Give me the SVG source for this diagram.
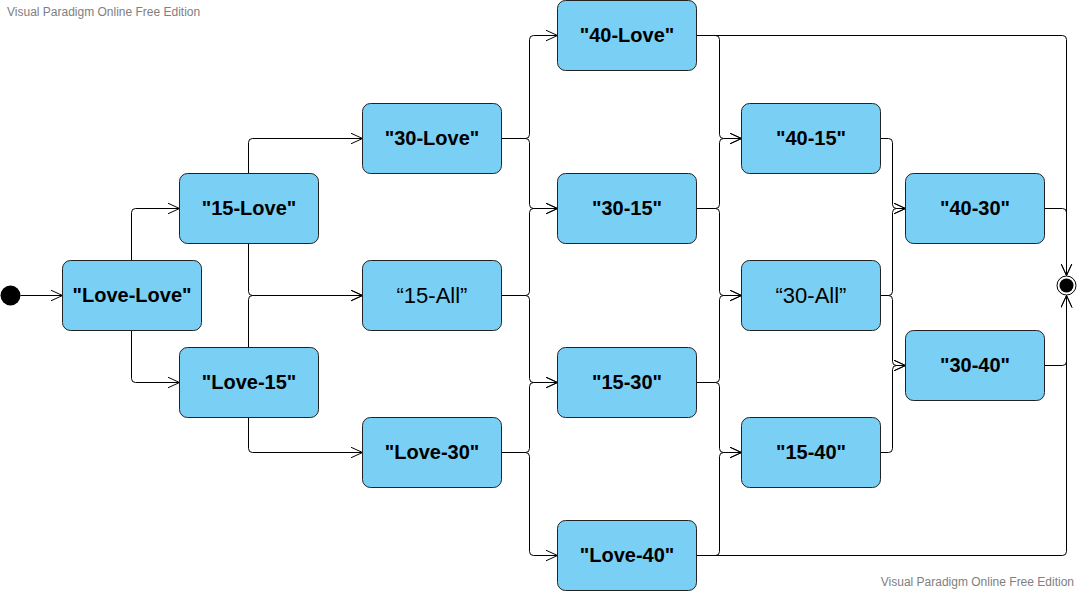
<svg xmlns="http://www.w3.org/2000/svg" width="1080" height="591" viewBox="0 0 1080 591">
<style>
.n rect{fill:#7ACFF5;stroke:#222;stroke-width:1}
.n text{font-family:"Liberation Sans",Arial,sans-serif;font-size:20px;font-weight:bold;fill:#000;text-anchor:middle}
.n text.r{font-weight:normal;font-size:22px}
.c path{fill:none;stroke:#000;stroke-width:1;marker-end:url(#arr)}
.wm{font-family:"Liberation Sans",Arial,sans-serif;font-size:12px;fill:#808080}
</style>
<defs>
<marker id="arr" markerUnits="userSpaceOnUse" viewBox="0 0 13 12" refX="12" refY="6" markerWidth="13" markerHeight="12" orient="auto">
<path d="M0,0.5 L12,6 L0,11.5" fill="none" stroke="#000" stroke-width="1"/>
</marker>
</defs>
<rect width="1080" height="591" fill="#fff"/>
<text class="wm" x="7" y="16">Visual Paradigm Online Free Edition</text>
<text class="wm" x="1074" y="586" text-anchor="end">Visual Paradigm Online Free Edition</text>
<g id="connectors" class="c">
<path d="M20.5,295.5 H62.5"/>
<path d="M131.5,260.5 V212.5 Q131.5,208.5 135.5,208.5 H179.5"/>
<path d="M131.5,330.5 V378.5 Q131.5,382.5 135.5,382.5 H179.5"/>
<path d="M248.5,173.5 V142.5 Q248.5,138.5 252.5,138.5 H362.5"/>
<path d="M248.5,243.5 V291.5 Q248.5,295.5 252.5,295.5 H362.5"/>
<path d="M248.5,347.5 V299.5 Q248.5,295.5 252.5,295.5 H362.5"/>
<path d="M248.5,417.5 V448.5 Q248.5,452.5 252.5,452.5 H362.5"/>
<path d="M501.5,138.5 H525.5 Q529.5,138.5 529.5,134.5 V39.5 Q529.5,35.5 533.5,35.5 H557.5"/>
<path d="M501.5,138.5 H525.5 Q529.5,138.5 529.5,142.5 V204.5 Q529.5,208.5 533.5,208.5 H557.5"/>
<path d="M501.5,295.5 H525.5 Q529.5,295.5 529.5,291.5 V212.5 Q529.5,208.5 533.5,208.5 H557.5"/>
<path d="M501.5,295.5 H525.5 Q529.5,295.5 529.5,299.5 V378.5 Q529.5,382.5 533.5,382.5 H557.5"/>
<path d="M501.5,452.5 H525.5 Q529.5,452.5 529.5,448.5 V386.5 Q529.5,382.5 533.5,382.5 H557.5"/>
<path d="M501.5,452.5 H525.5 Q529.5,452.5 529.5,456.5 V551.5 Q529.5,555.5 533.5,555.5 H557.5"/>
<path d="M696.5,35.5 H715.5 Q719.5,35.5 719.5,39.5 V134.5 Q719.5,138.5 723.5,138.5 H741.5"/>
<path d="M696.5,208.5 H715.5 Q719.5,208.5 719.5,204.5 V142.5 Q719.5,138.5 723.5,138.5 H741.5"/>
<path d="M696.5,208.5 H715.5 Q719.5,208.5 719.5,212.5 V291.5 Q719.5,295.5 723.5,295.5 H741.5"/>
<path d="M696.5,382.5 H715.5 Q719.5,382.5 719.5,378.5 V299.5 Q719.5,295.5 723.5,295.5 H741.5"/>
<path d="M696.5,382.5 H715.5 Q719.5,382.5 719.5,386.5 V448.5 Q719.5,452.5 723.5,452.5 H741.5"/>
<path d="M696.5,555.5 H715.5 Q719.5,555.5 719.5,551.5 V456.5 Q719.5,452.5 723.5,452.5 H741.5"/>
<path d="M880.5,138.5 H888.5 Q892.5,138.5 892.5,142.5 V204.5 Q892.5,208.5 896.5,208.5 H905.5"/>
<path d="M880.5,295.5 H888.5 Q892.5,295.5 892.5,291.5 V212.5 Q892.5,208.5 896.5,208.5 H905.5"/>
<path d="M880.5,295.5 H888.5 Q892.5,295.5 892.5,299.5 V361.5 Q892.5,365.5 896.5,365.5 H905.5"/>
<path d="M880.5,452.5 H888.5 Q892.5,452.5 892.5,448.5 V369.5 Q892.5,365.5 896.5,365.5 H905.5"/>
<path d="M696.5,35.5 H1062.5 Q1066.5,35.5 1066.5,39.5 V275.5"/>
<path d="M1044.5,208.5 H1062.5 Q1066.5,208.5 1066.5,212.5 V275.5"/>
<path d="M1044.5,365.5 H1062.5 Q1066.5,365.5 1066.5,361.5 V295.5"/>
<path d="M696.5,555.5 H1062.5 Q1066.5,555.5 1066.5,551.5 V295.5"/>
</g>
<g id="initial"><circle cx="10.5" cy="295.5" r="10" fill="#000"/></g>
<g id="final"><circle cx="1066.5" cy="285.5" r="9.5" fill="#fff" stroke="#000" stroke-width="1"/><circle cx="1066.5" cy="285.5" r="7" fill="#000"/></g>
<g id="LoveLove" class="n"><rect x="62.5" y="260.5" width="139" height="70" rx="8"/><text x="132" y="302">"Love-Love"</text></g>
<g id="n15Love" class="n"><rect x="179.5" y="173.5" width="139" height="70" rx="8"/><text x="249" y="215">"15-Love"</text></g>
<g id="Love15" class="n"><rect x="179.5" y="347.5" width="139" height="70" rx="8"/><text x="249" y="389">"Love-15"</text></g>
<g id="n30Love" class="n"><rect x="362.5" y="103.5" width="139" height="70" rx="8"/><text x="432" y="145">"30-Love"</text></g>
<g id="n15All" class="n"><rect x="362.5" y="260.5" width="139" height="70" rx="8"/><text class="r" x="432" y="303">“15-All”</text></g>
<g id="Love30" class="n"><rect x="362.5" y="417.5" width="139" height="70" rx="8"/><text x="432" y="459">"Love-30"</text></g>
<g id="n40Love" class="n"><rect x="557.5" y="0.5" width="139" height="70" rx="8"/><text x="627" y="42">"40-Love"</text></g>
<g id="n30_15" class="n"><rect x="557.5" y="173.5" width="139" height="70" rx="8"/><text x="627" y="215">"30-15"</text></g>
<g id="n15_30" class="n"><rect x="557.5" y="347.5" width="139" height="70" rx="8"/><text x="627" y="389">"15-30"</text></g>
<g id="Love40" class="n"><rect x="557.5" y="520.5" width="139" height="70" rx="8"/><text x="627" y="562">"Love-40"</text></g>
<g id="n40_15" class="n"><rect x="741.5" y="103.5" width="139" height="70" rx="8"/><text x="811" y="145">"40-15"</text></g>
<g id="n30All" class="n"><rect x="741.5" y="260.5" width="139" height="70" rx="8"/><text class="r" x="811" y="303">“30-All”</text></g>
<g id="n15_40" class="n"><rect x="741.5" y="417.5" width="139" height="70" rx="8"/><text x="811" y="459">"15-40"</text></g>
<g id="n40_30" class="n"><rect x="905.5" y="173.5" width="139" height="70" rx="8"/><text x="975" y="215">"40-30"</text></g>
<g id="n30_40" class="n"><rect x="905.5" y="330.5" width="139" height="70" rx="8"/><text x="975" y="372">"30-40"</text></g>
</svg>
